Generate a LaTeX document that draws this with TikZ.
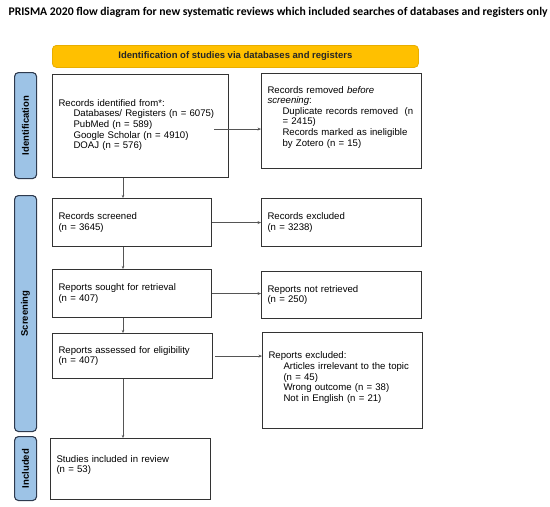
\documentclass[tikz,border=0pt]{standalone}
\usepackage{fontspec}
\setmainfont{Liberation Sans}
\newfontfamily\titlefont{Carlito}
\usetikzlibrary{arrows.meta}
\definecolor{sidefill}{HTML}{9DC3E6}
\definecolor{sidedraw}{HTML}{2E3A4E}
\definecolor{bannerfill}{HTML}{FFC000}
\definecolor{bannerdraw}{HTML}{E8AE00}
\definecolor{boxdraw}{HTML}{333333}
\definecolor{arrcol}{HTML}{555555}
\tikzset{
  box/.style={draw=boxdraw, line width=1.1pt, anchor=north west, align=left,
    inner xsep=6pt, inner ysep=2pt, font=\fontsize{9.6}{10.6}\selectfont},
  side/.style={draw=sidedraw, fill=sidefill, line width=1.1pt, rounded corners=4pt,
    anchor=north west, minimum width=22pt, inner sep=0pt},
  sidelabel/.style={rotate=90, font=\bfseries\fontsize{9.5}{11}\selectfont},
  arr/.style={draw=arrcol, line width=0.7pt, -{Stealth[length=3.5pt,width=3pt]}},
  vline/.style={draw=arrcol, line width=0.9pt, -{Stealth[length=3pt,width=2.5pt]}}
}
\newcommand{\ind}{\hspace*{15pt}}
\begin{document}
\begin{tikzpicture}[x=1pt,y=-1pt]
\useasboundingbox (0,0) rectangle (550,507);
% title
\node[font=\titlefont\bfseries\fontsize{11.7}{13}\selectfont, anchor=west] (title) at (5,12.5)
  {PRISMA 2020 flow diagram for new systematic reviews which included searches of databases and registers only};
% banner
\node[draw=bannerdraw, fill=bannerfill, rounded corners=4pt, line width=0.8pt,
  anchor=north west, minimum width=366pt, minimum height=22pt, inner sep=0pt,
  font=\bfseries\fontsize{9.5}{11}\selectfont, text=black!85] (banner) at (52,45)
  {Identification of studies via databases and registers};
% side bars
\node[side, minimum height=106pt] (sid) at (14,72) {};
\node[sidelabel] (sidl) at (sid.center) {Identification};
\node[side, minimum height=236pt] (sscr) at (14,195) {};
\node[sidelabel] (sscrl) at (sscr.center) {Screening};
\node[side, minimum height=64pt] (sinc) at (14,436) {};
\node[sidelabel] (sincl) at (sinc.center) {Included};
% boxes
\node[box, minimum width=176pt, minimum height=103pt, text width=164pt] (b1) at (52,74)
  {Records identified from*:\\
   \ind Databases/ Registers (n = 6075)\\
   \ind PubMed (n = 589)\\
   \ind Google Scholar (n = 4910)\\
   \ind DOAJ (n = 576)\\[-6.6pt]\mbox{}};
\node[box, minimum width=160pt, minimum height=95pt, text width=148pt] (b2) at (261,73)
  {Records removed \textit{before}\\
   \textit{screening}:\\
   \ind Duplicate records removed\ \ (n\\
   \ind = 2415)\\
   \ind Records marked as ineligible\\
   \ind by Zotero (n = 15)\\[-0.6pt]\mbox{}};
\node[box, minimum width=159pt, minimum height=48pt, text width=147pt] (b3) at (52,198)
  {Records screened\\(n = 3645)};
\node[box, minimum width=160pt, minimum height=48pt, text width=148pt] (b4) at (261,198)
  {Records excluded\\(n = 3238)};
\node[box, minimum width=159pt, minimum height=48pt, text width=147pt] (b5) at (52,269)
  {Reports sought for retrieval\\(n = 407)};
\node[box, minimum width=160pt, minimum height=47pt, text width=148pt] (b6) at (261,271)
  {Reports not retrieved\\(n = 250)};
\node[box, minimum width=160pt, minimum height=45pt, text width=148pt] (b7) at (52,333)
  {Reports assessed for eligibility\\(n = 407)};
\node[box, minimum width=160pt, minimum height=96pt, text width=148pt] (b8) at (262,332)
  {Reports excluded:\\
   \ind Articles irrelevant to the topic\\
   \ind (n = 45)\\
   \ind Wrong outcome (n = 38)\\
   \ind Not in English (n = 21)\\[-2.6pt]\mbox{}};
\node[box, minimum width=160pt, minimum height=61pt, text width=148pt] (b9) at (50,438)
  {Studies included in review\\(n = 53)\\[-0.6pt]\mbox{}};
% connectors
\coordinate (ax) at (123,0);
\draw[vline] (b1.south -| ax) -- (b3.north -| ax);
\draw[vline] (b3.south -| ax) -- (b5.north -| ax);
\draw[vline] (b5.south -| ax) -- (b7.north -| ax);
\draw[vline] (b7.south -| ax) -- (b9.north -| ax);
\draw[arr] ([xshift=-15pt,yshift=-3pt]b1.east) -- ([yshift=-3pt]b1.east -| b2.west);
\draw[arr] (b3.east) -- (b3.east -| b4.west);
\draw[arr] (b5.east) -- (b5.east -| b6.west);
\draw[arr] ([xshift=2pt]b7.east) -- (b7.east -| b8.west);
\end{tikzpicture}
\end{document}
